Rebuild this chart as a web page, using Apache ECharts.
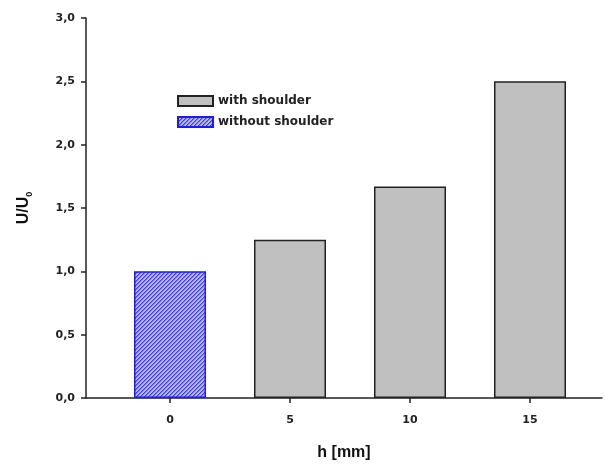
<!DOCTYPE html>
<html>
<head>
<meta charset="utf-8">
<script src="https://cdn.jsdelivr.net/npm/echarts@6/dist/echarts.min.js"></script>
<style>html,body{margin:0;padding:0;background:#fff}#c{width:605px;height:466px}</style>
</head>
<body>
<div id="c"></div>
<script>
var xTicks = [0, 5, 10, 15];
var withShoulderX = [5, 10, 15];
var withShoulderY = [1.25, 1.67, 2.5];
var withoutShoulderX = [0];
var withoutShoulderY = [1.0];
var seriesNames = ['with shoulder', 'without shoulder'];

function hatch() {
  var c = document.createElement('canvas');
  c.width = 4; c.height = 4;
  var g = c.getContext('2d');
  for (var y = 0; y < 4; y++) {
    for (var x = 0; x < 4; x++) {
      var k = (x + y) % 4;
      g.fillStyle = k === 0 ? '#3a3aff' : (k === 1 ? '#7878f0' : '#bcbcc8');
      g.fillRect(x, y, 1, 1);
    }
  }
  return c;
}

var chart = echarts.init(document.getElementById('c'));
var font = 'Liberation Sans, Arial, sans-serif';
var tfont = 'DejaVu Sans, Verdana, sans-serif';
chart.setOption({
  animation: false,
  grid: {left: 86, right: 3, top: 18, bottom: 66, containLabel: false},
  legend: {
    orient: 'vertical', left: 172, top: 90, itemWidth: 35, itemHeight: 10, itemGap: 9,
    icon: 'rect',
    textStyle: {fontFamily: tfont, fontWeight: 'bold', fontSize: 12, color: '#222'},
    data: seriesNames
  },
  xAxis: {
    type: 'value', min: -3.5, max: 18,
    name: 'h [mm]', nameLocation: 'middle', nameGap: 47,
    nameTextStyle: {fontFamily: font, fontWeight: 'bold', fontSize: 16, color: '#111'},
    axisLine: {show: true, onZero: false, lineStyle: {color: '#222', width: 1.5}},
    axisTick: {show: true, length: 5, customValues: xTicks, lineStyle: {color: '#222', width: 1.5}},
    axisLabel: {customValues: xTicks, margin: 17, fontFamily: tfont, fontWeight: 'bold', fontSize: 11, color: '#222'},
    splitLine: {show: false}
  },
  yAxis: {
    type: 'value', min: 0, max: 3, interval: 0.5,
    name: '{a|U/U}{b|0}', nameLocation: 'middle', nameGap: 52, nameRotate: 90,
    nameTextStyle: {
      rich: {
        a: {fontFamily: font, fontWeight: 'bold', fontSize: 16, color: '#111', lineHeight: 20},
        b: {fontFamily: font, fontWeight: 'bold', fontSize: 9, color: '#111', lineHeight: 20, verticalAlign: 'bottom', padding: [9, 0, 0, 0]}
      }
    },
    axisLine: {show: true, onZero: false, lineStyle: {color: '#222', width: 1.5}},
    axisTick: {show: true, length: 5, lineStyle: {color: '#222', width: 1.5}},
    axisLabel: {margin: 11, fontFamily: tfont, fontWeight: 'bold', fontSize: 11, color: '#222',
      formatter: function (v) { return v.toFixed(1).replace('.', ','); }},
    splitLine: {show: false}
  },
  series: [
    {
      name: seriesNames[0], type: 'bar', barWidth: 72, barGap: '-100%',
      itemStyle: {color: '#c0c0c0', borderColor: '#222', borderWidth: 1.5},
      data: withShoulderX.map(function (x, i) { return [x, withShoulderY[i]]; })
    },
    {
      name: seriesNames[1], type: 'bar', barWidth: 72, barGap: '-100%',
      itemStyle: {color: {image: hatch(), repeat: 'repeat'}, borderColor: '#1a1aff', borderWidth: 1.5},
      data: withoutShoulderX.map(function (x, i) { return [x, withoutShoulderY[i]]; })
    }
  ]
});
</script>
</body>
</html>
